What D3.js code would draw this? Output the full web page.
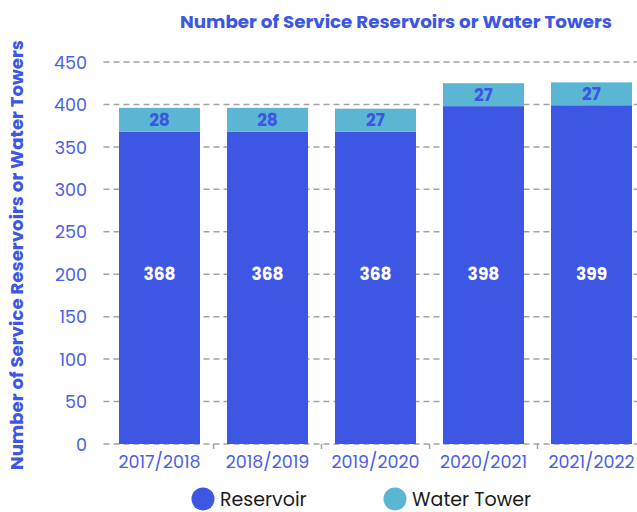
<!DOCTYPE html>
<html>
<head>
<meta charset="utf-8">
<script src="https://cdn.jsdelivr.net/npm/d3@7"></script>
<style>
  html, body { margin: 0; padding: 0; background: #fff; }
  svg { display: block; }
  text { font-family: "Poppins", "Inter", "Open Sans", sans-serif; }
</style>
</head>
<body>
<svg id="chart" width="637" height="512"></svg>
<script>
// Service reservoirs and water towers per financial year
const years = ["2017/2018", "2018/2019", "2019/2020", "2020/2021", "2021/2022"];
const reservoirs = [368, 368, 368, 398, 399];
const waterTowers = [28, 28, 27, 27, 27];
const seriesNames = ["Reservoir", "Water Tower"];
const yTicks = [0, 50, 100, 150, 200, 250, 300, 350, 400, 450];

const colors = { "Reservoir": "#3d56e4", "Water Tower": "#5ab6d3" };
const labelBlue = "#4b5ee6";

const svg = d3.select("#chart");
const W = 637, H = 512;
const plot = { left: 105.5, right: 645.5, top: 62, bottom: 444 };

const x = d3.scaleBand()
  .domain(years)
  .range([plot.left, plot.right])
  .paddingInner(0.25)
  .paddingOuter(0.125);

const y = d3.scaleLinear()
  .domain([0, 450])
  .range([plot.bottom, plot.top]);

const rows = years.map((yr, i) => ({ year: yr, "Reservoir": reservoirs[i], "Water Tower": waterTowers[i] }));
const stacked = d3.stack().keys(seriesNames)(rows);

// Dashed horizontal gridlines
svg.append("g")
  .selectAll("line")
  .data(yTicks)
  .join("line")
  .attr("x1", plot.left - 2)
  .attr("x2", W + 10)
  .attr("y1", d => y(d))
  .attr("y2", d => y(d))
  .attr("stroke", "#a3a3a3")
  .attr("stroke-width", 1.5)
  .attr("stroke-dasharray", "6,4");

// Y axis labels
const yAxis = d3.axisLeft(y).tickValues(yTicks).tickSize(0).tickPadding(0);
const yg = svg.append("g").attr("transform", "translate(87,0)").call(yAxis);
yg.select(".domain").remove();
yg.selectAll("text")
  .attr("fill", labelBlue)
  .style("font-size", "17.5px")
  .attr("dy", "0.35em");

// Stacked bars
svg.append("g")
  .selectAll("g")
  .data(stacked)
  .join("g")
  .attr("fill", d => colors[d.key])
  .selectAll("rect")
  .data(d => d)
  .join("rect")
  .attr("x", d => x(d.data.year))
  .attr("y", d => y(d[1]))
  .attr("width", x.bandwidth())
  .attr("height", d => y(d[0]) - y(d[1]));

// X axis: tick marks between the bars and year labels
const xg = svg.append("g").attr("transform", `translate(0,${plot.bottom})`);
const bounds = years.slice(1).map(yr => x(yr) - x.step() * x.paddingInner() / 2);
xg.selectAll("line.tick")
  .data(bounds)
  .join("line")
  .attr("class", "tick")
  .attr("x1", d => d).attr("x2", d => d)
  .attr("y1", 0).attr("y2", 5)
  .attr("stroke", "#a3a3a3")
  .attr("stroke-width", 1.5);
xg.selectAll("text")
  .data(years)
  .join("text")
  .attr("x", d => x(d) + x.bandwidth() / 2)
  .attr("y", 18)
  .attr("dy", "0.35em")
  .attr("text-anchor", "middle")
  .attr("fill", labelBlue)
  .style("font-size", "17.5px")
  .text(d => d);

// Reservoir values sit on a common line; water tower values in their segment
const valueLine = y(200);
svg.append("g")
  .selectAll("text")
  .data(stacked[0])
  .join("text")
  .attr("x", d => x(d.data.year) + x.bandwidth() / 2)
  .attr("y", valueLine)
  .attr("dy", "0.35em")
  .attr("text-anchor", "middle")
  .attr("fill", "#ffffff")
  .style("font-size", "17px")
  .style("font-weight", "700")
  .text(d => d[1] - d[0]);

svg.append("g")
  .selectAll("text")
  .data(stacked[1])
  .join("text")
  .attr("x", d => x(d.data.year) + x.bandwidth() / 2)
  .attr("y", d => (y(d[0]) + y(d[1])) / 2)
  .attr("dy", "0.35em")
  .attr("text-anchor", "middle")
  .attr("fill", "#3d56e4")
  .style("font-size", "17px")
  .style("font-weight", "700")
  .text(d => d[1] - d[0]);

// Chart title
svg.append("text")
  .attr("x", 396)
  .attr("y", 22)
  .attr("dy", "0.35em")
  .attr("text-anchor", "middle")
  .attr("fill", "#3d56e4")
  .style("font-size", "17px")
  .style("font-weight", "700")
  .attr("textLength", 432)
  .attr("lengthAdjust", "spacingAndGlyphs")
  .text("Number of Service Reservoirs or Water Towers");

// Y axis title
svg.append("text")
  .attr("transform", "translate(17,255) rotate(-90)")
  .attr("dy", "0.35em")
  .attr("text-anchor", "middle")
  .attr("fill", "#3d56e4")
  .style("font-size", "17px")
  .style("font-weight", "700")
  .attr("textLength", 430)
  .attr("lengthAdjust", "spacingAndGlyphs")
  .text("Number of Service Reservoirs or Water Towers");

// Legend
const legendX = [203, 395];
const legend = svg.append("g")
  .selectAll("g")
  .data(seriesNames)
  .join("g")
  .attr("transform", (d, i) => `translate(${legendX[i]},499)`);
legend.append("circle")
  .attr("r", 11.5)
  .attr("fill", d => colors[d]);
legend.append("text")
  .attr("x", 17)
  .attr("y", 7)
  .attr("fill", "#1a1a1a")
  .style("font-size", "19px")
  .text(d => d);
</script>
</body>
</html>
